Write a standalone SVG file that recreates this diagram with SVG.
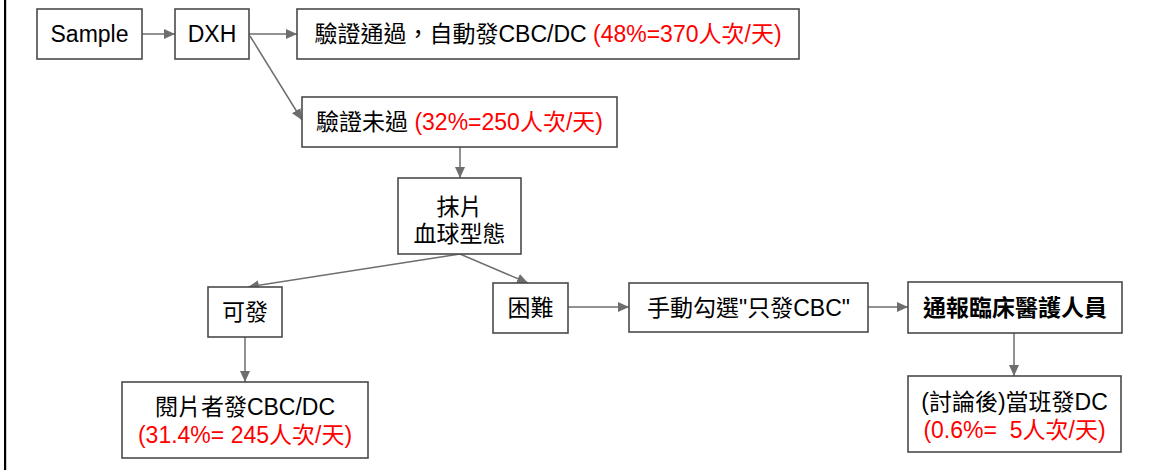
<svg xmlns="http://www.w3.org/2000/svg" width="1156" height="470" viewBox="0 0 1156 470">
<style>
.box{fill:#fff;stroke:#4a4a4a;stroke-width:1.6}
.t{font-family:"Liberation Sans","Noto Sans CJK TC",sans-serif;font-size:23px;fill:#000;text-anchor:middle;white-space:pre}
.r{fill:#ff0000}
.b{font-weight:bold}
.c{stroke:#6e6e6e;stroke-width:1.5;fill:none;marker-end:url(#ah)}
</style>
<defs>
<marker id="ah" markerUnits="userSpaceOnUse" markerWidth="12" markerHeight="10" refX="11" refY="5" orient="auto">
<path d="M0,0 L11,5 L0,10 Z" fill="#6e6e6e"/>
</marker>
</defs>
<rect x="0" y="0" width="1156" height="470" fill="#fff"/>
<rect x="4" y="0" width="2.2" height="470" fill="#000"/>
<g id="connectors">
<line class="c" x1="142" y1="34" x2="175" y2="34"/>
<line class="c" x1="249" y1="34" x2="297" y2="34"/>
<line class="c" x1="250" y1="36" x2="302" y2="120"/>
<line class="c" x1="460" y1="147" x2="460" y2="178"/>
<line class="c" x1="460" y1="254" x2="248" y2="287"/>
<line class="c" x1="460" y1="254" x2="528" y2="283"/>
<line class="c" x1="568" y1="307" x2="629" y2="307"/>
<line class="c" x1="868" y1="307" x2="908" y2="307"/>
<line class="c" x1="1014" y1="333" x2="1014" y2="376"/>
<line class="c" x1="245" y1="337" x2="245" y2="382"/>
</g>
<g id="sample"><rect class="box" x="37" y="9" width="105" height="50"/><text class="t" x="89.5" y="42">Sample</text></g>
<g id="dxh"><rect class="box" x="175" y="9" width="74" height="50"/><text class="t" x="212" y="42">DXH</text></g>
<g id="pass"><rect class="box" x="297" y="9" width="502" height="50"/><text class="t" x="548" y="42">驗證通過，自動發CBC/DC <tspan class="r">(48%=370人次/天)</tspan></text></g>
<g id="fail"><rect class="box" x="302" y="97" width="315" height="50"/><text class="t" x="459.5" y="130">驗證未過 <tspan class="r">(32%=250人次/天)</tspan></text></g>
<g id="smear"><rect class="box" x="398" y="178" width="123" height="76"/><text class="t" x="459.5" y="215">抹片</text><text class="t" x="459.5" y="242">血球型態</text></g>
<g id="ok"><rect class="box" x="208" y="287" width="74" height="50"/><text class="t" x="245" y="320">可發</text></g>
<g id="hard"><rect class="box" x="493" y="283" width="75" height="50"/><text class="t" x="530.5" y="316">困難</text></g>
<g id="manual"><rect class="box" x="629" y="283" width="239" height="49"/><text class="t" x="748.5" y="316">手動勾選"只發CBC"</text></g>
<g id="notify"><rect class="box" x="908" y="282" width="214" height="51"/><text class="t b" x="1015" y="316">通報臨床醫護人員</text></g>
<g id="reader"><rect class="box" x="122" y="382" width="246" height="76"/><text class="t" x="245" y="415">閱片者發CBC/DC</text><text class="t r" x="245" y="443">(31.4%= 245人次/天)</text></g>
<g id="discuss"><rect class="box" x="908" y="376" width="213" height="76"/><text class="t" x="1014.5" y="410">(討論後)當班發DC</text><text class="t r" x="1014.5" y="438">(0.6%=  5人次/天)</text></g>
</svg>
